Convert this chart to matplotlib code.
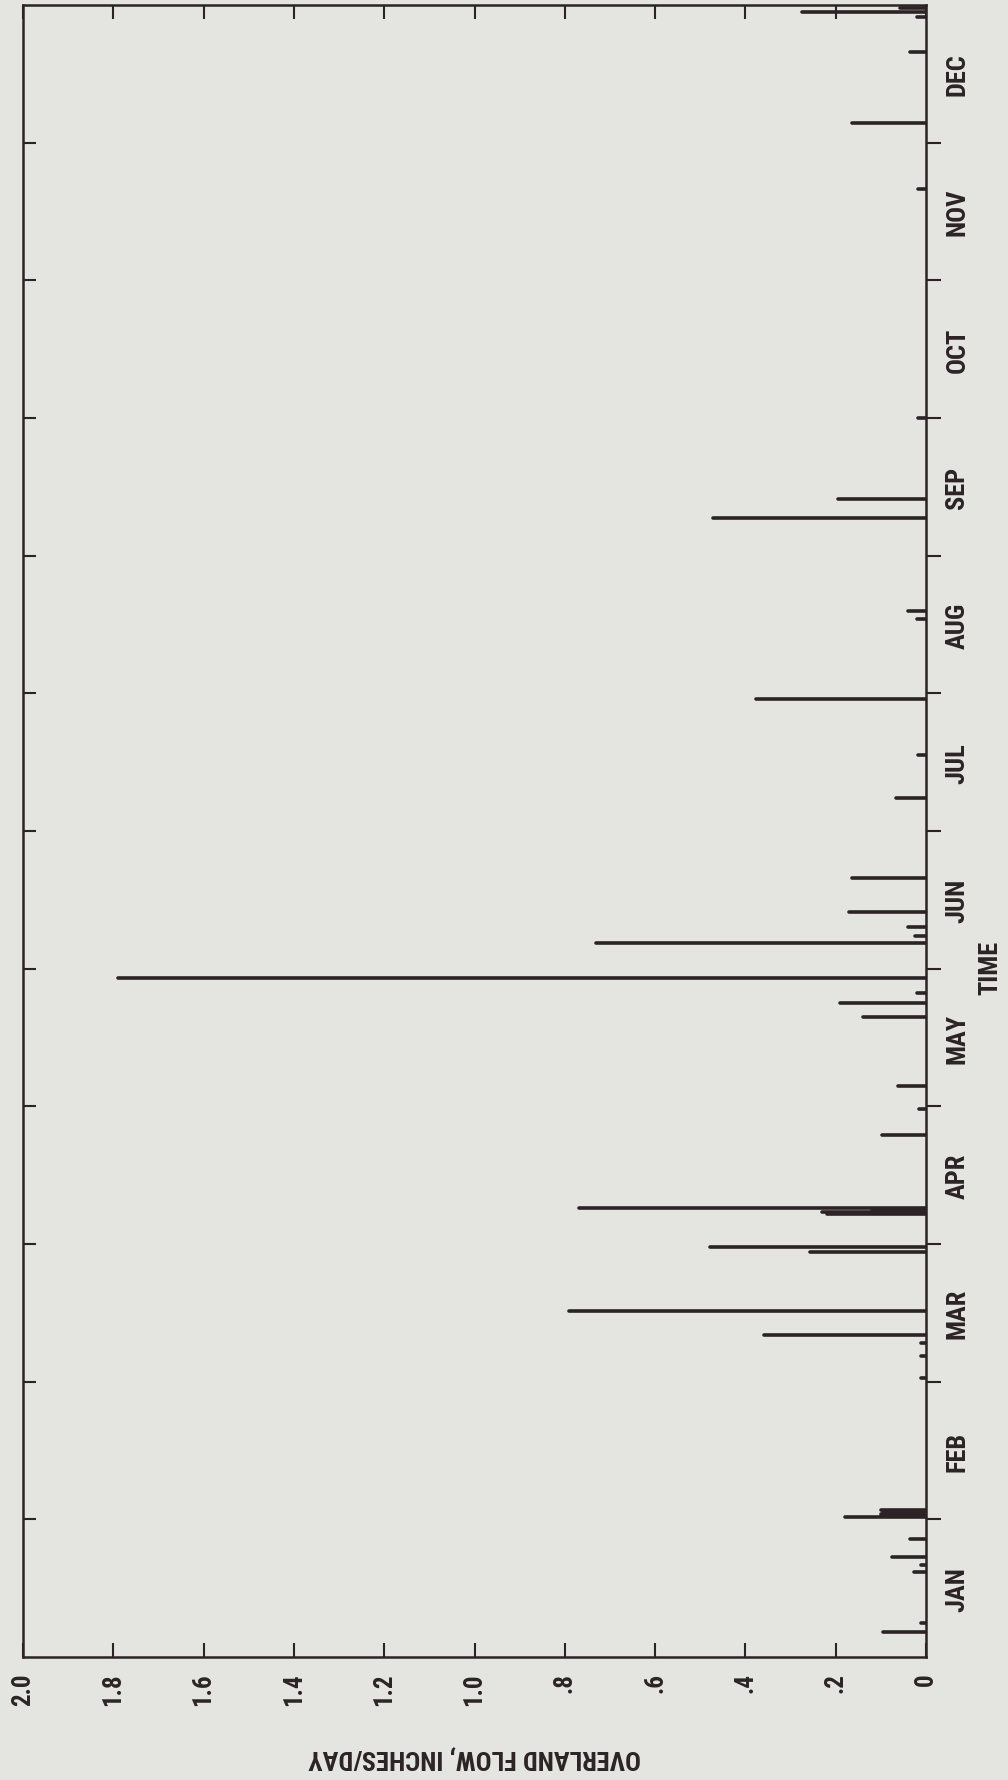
import matplotlib
matplotlib.use("Agg")
import matplotlib.pyplot as plt
from matplotlib import font_manager as fm

# pick a narrow font if one is installed
names = {f.name for f in fm.fontManager.ttflist}
font = "DejaVu Sans"
for cand in ["Liberation Sans Narrow", "DejaVu Sans Condensed", "Roboto Condensed"]:
    if cand in names:
        font = cand
        break
plt.rcParams["font.family"] = [font, "DejaVu Sans"]
plt.rcParams["font.weight"] = "bold"
plt.rcParams["font.stretch"] = "condensed"

months = ["JAN", "FEB", "MAR", "APR", "MAY", "JUN",
          "JUL", "AUG", "SEP", "OCT", "NOV", "DEC"]

# time of each runoff event, in months from 1 January
flow_t = [0.185, 0.245, 0.62, 0.67, 0.73, 0.86, 1.015, 1.025, 1.04, 1.055, 1.07,
          2.03, 2.19, 2.28, 2.34, 2.51, 2.94, 2.98,
          3.22, 3.235, 3.25, 3.265, 3.79, 3.98,
          4.146, 4.65, 4.75, 4.82, 4.93,
          5.19, 5.24, 5.30, 5.41, 5.66,
          6.24, 6.55, 6.96,
          7.54, 7.60, 8.275, 8.41, 9.0,
          10.66, 11.145, 11.66, 11.91, 11.95, 11.975]
# overland flow, inches/day
flow_v = [0.095, 0.012, 0.026, 0.012, 0.075, 0.035, 0.18, 0.10, 0.10, 0.095, 0.10,
          0.012, 0.012, 0.012, 0.358, 0.79, 0.257, 0.478,
          0.22, 0.23, 0.12, 0.768, 0.097, 0.015,
          0.063, 0.14, 0.19, 0.02, 1.79,
          0.73, 0.024, 0.039, 0.17, 0.164,
          0.066, 0.018, 0.376,
          0.02, 0.039, 0.472, 0.196, 0.018,
          0.018, 0.165, 0.035, 0.02, 0.274, 0.058]

flow_ticks = [0, 0.2, 0.4, 0.6, 0.8, 1.0, 1.2, 1.4, 1.6, 1.8, 2.0]
flow_labels = ["0", ".2", ".4", ".6", ".8", "1.0", "1.2", "1.4", "1.6", "1.8", "2.0"]

ink = "#2b2325"
paper = "#e4e4e0"

fig = plt.figure(figsize=(10.08, 17.81), dpi=100, facecolor=paper)
ax = fig.add_axes([23 / 1008, 1 - 1658 / 1781, 903 / 1008, 1652 / 1781])
ax.set_facecolor(paper)

ax.hlines(flow_t, 0, flow_v, color=ink, linewidth=2.6, capstyle="round")

ax.set_xlim(2.0, 0)
ax.set_ylim(0, 12)
for s in ax.spines.values():
    s.set_color(ink)
    s.set_linewidth(1.8)

ax.set_xticks(flow_ticks)
ax.set_xticklabels(flow_labels, rotation=90, fontsize=18)
ax.tick_params(axis="x", direction="in", top=True, bottom=True, length=10,
               width=1.5, color=ink, labelcolor=ink, pad=11)

ax.set_yticks(range(1, 12))
ax.set_yticklabels([])
ax.tick_params(axis="y", direction="in", left=True, right=False, length=9,
               width=1.5, color=ink)

ax.set_xlabel("OVERLAND FLOW, INCHES/DAY", rotation=180, fontsize=19,
              fontweight="bold", color=ink, va="center")
ax.xaxis.set_label_coords(0.5, -0.0605)

# month boundaries and names on the right side
ax2 = ax.twinx()
ax2.set_ylim(0, 12)
ax2.set_yticks(range(1, 12))
ax2.set_yticklabels([])
ax2.tick_params(axis="y", which="major", direction="out", length=11,
                width=1.5, color=ink)
ax2.set_yticks([m + 0.5 for m in range(12)], minor=True)
ax2.set_yticklabels(months, minor=True, rotation=90, fontsize=19,
                    va="center", color=ink)
ax2.tick_params(axis="y", which="minor", length=0, pad=14)
for s in ax2.spines.values():
    s.set_visible(False)

ax2.set_ylabel("TIME", rotation=90, fontsize=19, fontweight="bold",
               color=ink, va="center")
ax2.yaxis.set_label_coords(1.071, 0.418)

fig.savefig("out.png", dpi=100, facecolor=paper)
